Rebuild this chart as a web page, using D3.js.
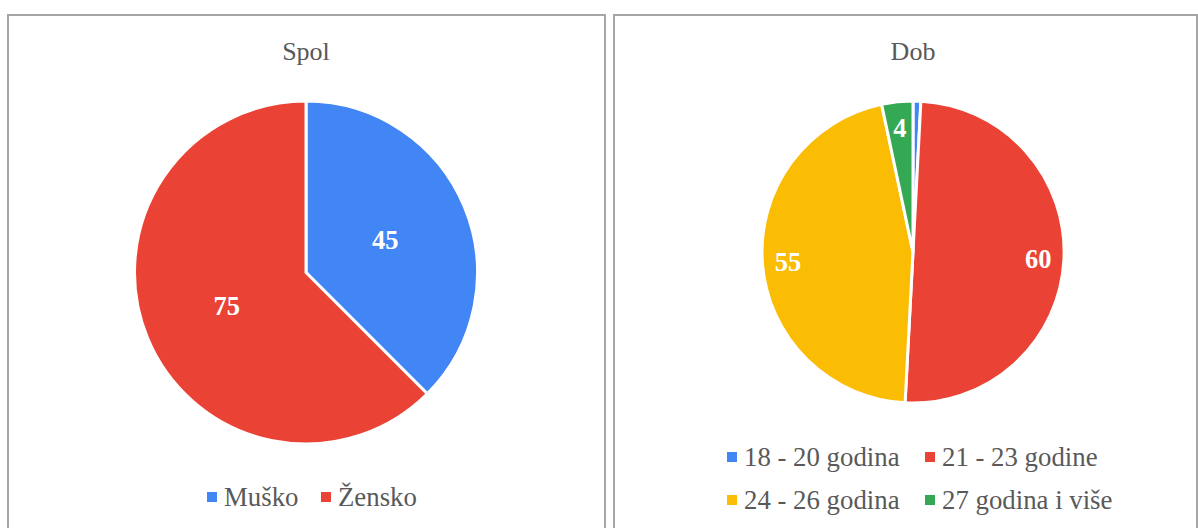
<!DOCTYPE html>
<html><head><meta charset="utf-8">
<script src="https://cdn.jsdelivr.net/npm/d3@7"></script>
<style>body{margin:0;background:#fff}svg{display:block}</style>
</head><body>
<svg id="c" width="1198" height="528"></svg>
<script>
const spolCategories = ["Muško", "Žensko"];
const spolValues = [45, 75];
const dobCategories = ["18 - 20 godina", "21 - 23 godine", "24 - 26 godina", "27 godina i više"];
const dobValues = [1, 60, 55, 4];
const spolColors = ["#4285f4", "#ea4335"];
const dobColors = ["#4285f4", "#ea4335", "#fbbc04", "#34a853"];

const svg = d3.select("#c");
const font = "'Liberation Serif','Times New Roman',serif";

// panel borders
svg.append("path").attr("d", "M8,600 V15 H605 V600").attr("fill","none").attr("stroke","#a6a6a6").attr("stroke-width",2);
svg.append("path").attr("d", "M614,600 V15 H1197 V600").attr("fill","none").attr("stroke","#a6a6a6").attr("stroke-width",2);

function drawPie(cats, vals, colors, cx, cy, r, labelF, title, titleX) {
  const g = svg.append("g");
  g.append("text").attr("x", titleX).attr("y", 60).attr("text-anchor","middle")
    .attr("font-family", font).attr("font-size", 26).attr("fill","#595959").text(title);
  const pie = d3.pie().sort(null).value(d => d.v);
  const data = pie(cats.map((c,i)=>({c, v: vals[i], col: colors[i]})));
  const arc = d3.arc().innerRadius(0).outerRadius(r);
  const pg = g.append("g").attr("transform", `translate(${cx},${cy})`);
  pg.selectAll("path").data(data).join("path").attr("d", arc)
    .attr("fill", d => d.data.col).attr("stroke","#fff").attr("stroke-width",3).attr("stroke-linejoin","round");
  const lab = d3.arc().innerRadius(r*labelF).outerRadius(r*labelF);
  pg.selectAll("text").data(data.filter(d => d.data.v >= 4)).join("text")
    .attr("transform", d => `translate(${lab.centroid(d)})`)
    .attr("text-anchor","middle").attr("dy","0.35em")
    .attr("font-family", font).attr("font-weight","bold").attr("font-size", 26.5).attr("fill","#fff")
    .text(d => d.data.v);
}
drawPie(spolCategories, spolValues, spolColors, 306, 272.5, 171.5, 0.5, "Spol", 306);
drawPie(dobCategories, dobValues, dobColors, 913, 252, 151, 0.83, "Dob", 913);

function legendItem(x, y, col, txt) {
  svg.append("rect").attr("x", x).attr("y", y-5).attr("width", 10).attr("height", 10).attr("fill", col);
  svg.append("text").attr("x", x+17).attr("y", y).attr("dy","0.35em")
    .attr("font-family", font).attr("font-size", 26.8).attr("fill","#595959").text(txt);
}
legendItem(207, 497, spolColors[0], spolCategories[0]);
legendItem(321, 497, spolColors[1], spolCategories[1]);
legendItem(727, 457, dobColors[0], dobCategories[0]);
legendItem(925, 457, dobColors[1], dobCategories[1]);
legendItem(727, 500, dobColors[2], dobCategories[2]);
legendItem(925, 500, dobColors[3], dobCategories[3]);
</script>
</body></html>
